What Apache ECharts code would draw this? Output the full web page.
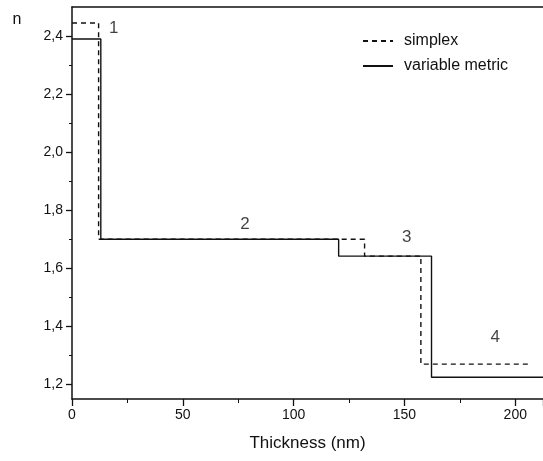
<!DOCTYPE html>
<html><head><meta charset="utf-8">
<script src="https://cdn.jsdelivr.net/npm/echarts@6/dist/echarts.min.js"></script>
<style>html,body{margin:0;padding:0;background:#fff}#main{width:543px;height:461px}</style>
</head><body><div id="main"></div>
<script>
// layer boundaries (nm) and refractive index of each layer
var simplexX = [0, 12, 12, 132, 132, 157.4, 157.4, 206];
var simplexN = [2.445, 2.445, 1.70, 1.70, 1.642, 1.642, 1.27, 1.27];
var metricX = [0, 13, 13, 120.3, 120.3, 162.2, 162.2, 212.5];
var metricN = [2.39, 2.39, 1.70, 1.70, 1.642, 1.642, 1.225, 1.225];
var yTicks = [1.2, 1.4, 1.6, 1.8, 2.0, 2.2, 2.4];
var yMinor = [1.3, 1.5, 1.7, 1.9, 2.1, 2.3];
var layerNames = ['1', '2', '3', '4'];
var layerNameX = [18.8, 78, 151, 191];
var layerNameN = [2.426, 1.75, 1.707, 1.363];

function pairs(xs, ys) {
    var out = [];
    xs.forEach(function (x, i) { out.push([x, ys[i]]); });
    return out;
}

var font = 'Liberation Sans, Arial, sans-serif';
var ink = '#111';
var myChart = echarts.init(document.getElementById('main'));

var option = {
    animation: false,
    grid: {left: 72, right: -2, top: 7, bottom: 62, containLabel: false},
    xAxis: [{
        type: 'value', min: 0, max: 212.5, interval: 50,
        name: 'Thickness (nm)', nameLocation: 'middle', nameGap: 36,
        nameTextStyle: {fontFamily: font, fontSize: 17, color: ink},
        axisLine: {lineStyle: {color: ink, width: 1.5}},
        axisTick: {length: 7, lineStyle: {color: ink, width: 1.3}},
        minorTick: {show: true, splitNumber: 2, length: 4, lineStyle: {color: ink}},
        axisLabel: {fontFamily: font, fontSize: 14, color: ink, margin: 9, showMaxLabel: false},
        splitLine: {show: false}
    }, {
        type: 'value', position: 'top', min: 0, max: 212.5,
        axisLine: {show: true, onZero: false, lineStyle: {color: ink, width: 1.5}},
        axisTick: {show: false}, axisLabel: {show: false}, splitLine: {show: false}
    }],
    yAxis: [{
        type: 'value', min: 1.15, max: 2.5,
        name: 'n', nameLocation: 'end', nameGap: -21,
        nameTextStyle: {fontFamily: font, fontSize: 16, color: ink, padding: [0, 110, 0, 0]},
        axisLine: {show: true, lineStyle: {color: ink, width: 1.5}},
        axisTick: {length: 6, customValues: yTicks, lineStyle: {color: ink, width: 1.3}},
        axisLabel: {
            fontFamily: font, fontSize: 14, color: ink, margin: 9, customValues: yTicks,
            formatter: function (v) { return v.toFixed(1).replace('.', ','); }
        },
        splitLine: {show: false}
    }, {
        type: 'value', position: 'left', min: 1.15, max: 2.5,
        axisLine: {show: false},
        axisTick: {show: true, length: 3, customValues: yMinor, lineStyle: {color: ink}},
        axisLabel: {show: false}, splitLine: {show: false}
    }],
    legend: {
        left: 357, top: 28, orient: 'vertical', itemGap: 9, itemWidth: 30, itemHeight: 14,
        itemStyle: {opacity: 0},
        textStyle: {fontFamily: font, fontSize: 16, color: ink, padding: [0, 0, 0, 6]},
        data: ['simplex', 'variable metric']
    },
    series: [{
        name: 'simplex', type: 'line', data: pairs(simplexX, simplexN),
        symbol: 'none', color: ink,
        lineStyle: {color: ink, width: 1.4, type: [5, 4]}
    }, {
        name: 'variable metric', type: 'line', data: pairs(metricX, metricN),
        symbol: 'none', color: ink,
        lineStyle: {color: ink, width: 1.4}
    }, {
        type: 'scatter', symbolSize: 0, silent: true,
        data: layerNames.map(function (s, i) {
            return {value: [layerNameX[i], layerNameN[i]], name: s};
        }),
        label: {show: true, position: 'inside', formatter: '{b}', fontFamily: font, fontSize: 17, color: ink}
    }]
};

myChart.setOption(option);
</script>
</body></html>
